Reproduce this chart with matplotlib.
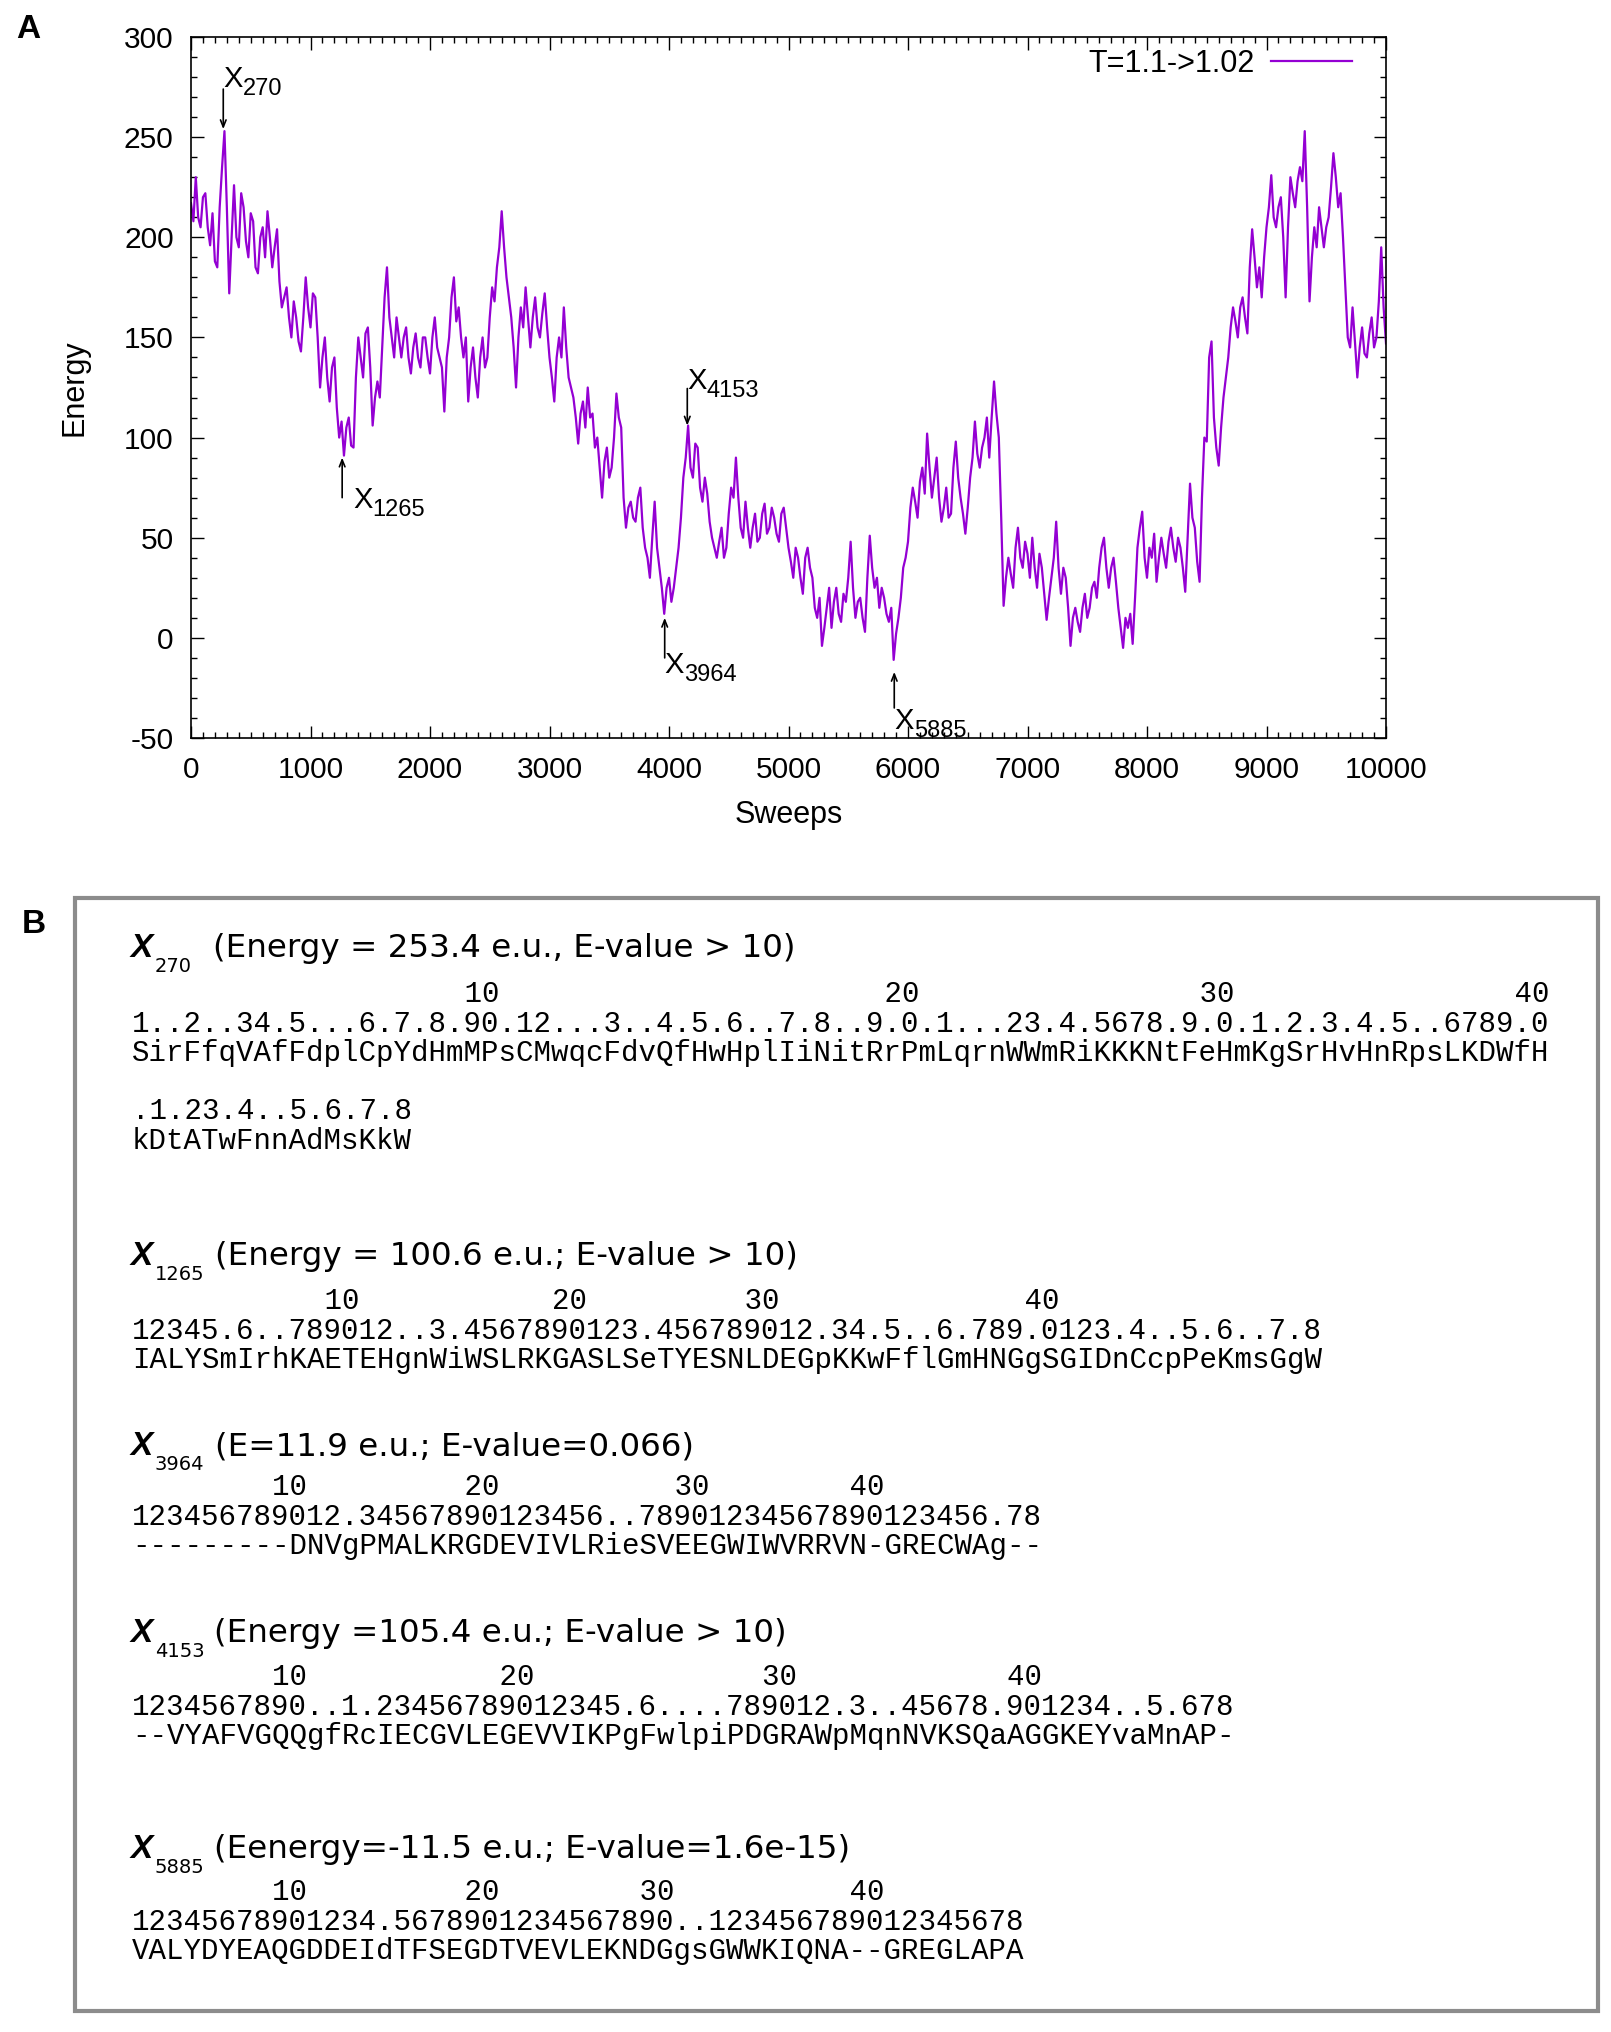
import numpy as np
import matplotlib
matplotlib.use("Agg")
import matplotlib.pyplot as plt
from matplotlib.ticker import MultipleLocator
from matplotlib.patches import Rectangle

plt.rcParams["axes.unicode_minus"] = False

# ---------------- data: panel A ----------------
sweeps = np.arange(0, 10001, 20)
energy = [217,
    208, 230, 210, 205, 220, 222, 205, 196, 212, 188, 185, 215, 235, 253, 215, 172, 200, 226, 200, 195,
    222, 215, 198, 190, 212, 208, 185, 182, 200, 205, 190, 213, 200, 185, 195, 204, 178, 165, 170, 175,
    160, 150, 168, 160, 148, 143, 160, 180, 165, 155,
    172, 170, 150, 125, 140, 150, 130, 118, 135, 140, 115, 100, 108, 91, 105, 110, 96, 95, 130, 150,
    140, 130, 152, 155, 135, 106, 120, 128, 120, 145, 170, 185, 160, 150, 140, 160, 150, 140, 150, 155,
    140, 132, 145, 152, 140, 135, 150, 150, 140, 132,
    150, 160, 145, 140, 135, 113, 140, 150, 170, 180, 158, 165, 150, 140, 150, 118, 135, 145, 130, 120,
    140, 150, 135, 140, 160, 175, 168, 185, 195, 213, 195, 180, 170, 160, 145, 125, 150, 165, 155, 175,
    160, 145, 160, 170, 155, 150, 162, 172, 155, 140,
    130, 118, 140, 150, 140, 165, 145, 130, 125, 120, 110, 97, 112, 118, 105, 125, 110, 112, 95, 100,
    85, 70, 88, 95, 80, 85, 100, 122, 110, 105, 70, 55, 65, 68, 60, 58, 70, 75, 55, 45,
    40, 30, 50, 68, 45, 35, 25, 12, 25, 30,
    18, 25, 35, 45, 60, 80, 90, 106, 85, 80, 97, 95, 75, 68, 80, 72, 58, 50, 45, 40,
    48, 55, 40, 45, 62, 75, 70, 90, 70, 55, 50, 68, 55, 45, 55, 62, 48, 50, 62, 67,
    52, 55, 65, 60, 52, 48, 62, 65, 55, 45,
    38, 30, 45, 40, 30, 22, 40, 45, 35, 30, 15, 10, 20, -4, 5, 15, 25, 5, 18, 25,
    12, 8, 22, 18, 30, 48, 25, 10, 18, 20, 10, 3, 30, 51, 35, 25, 30, 15, 25, 20,
    12, 8, 15, -11, 2, 10, 20, 35, 40, 48,
    65, 75, 68, 60, 78, 85, 72, 102, 85, 70, 80, 90, 70, 58, 65, 75, 60, 62, 85, 98,
    80, 70, 62, 52, 65, 80, 90, 108, 92, 85, 95, 100, 110, 90, 110, 128, 112, 100, 60, 16,
    30, 40, 32, 25, 45, 55, 40, 35, 48, 42,
    30, 50, 35, 25, 42, 35, 22, 9, 20, 30, 40, 58, 35, 22, 35, 30, 15, -4, 10, 15,
    8, 3, 15, 22, 10, 15, 25, 28, 20, 35, 45, 50, 35, 25, 35, 40, 28, 15, 5, -5,
    10, 5, 12, -3, 20, 45, 55, 63, 40, 30,
    45, 40, 52, 28, 40, 50, 42, 35, 48, 55, 45, 38, 50, 45, 35, 23, 50, 77, 60, 55,
    38, 28, 70, 100, 98, 140, 148, 110, 95, 86, 105, 120, 130, 140, 155, 165, 158, 150, 165, 170,
    160, 152, 185, 204, 190, 175, 185, 170, 190, 205,
    215, 231, 210, 205, 215, 220, 200, 170, 205, 230, 222, 215, 228, 235, 228, 253, 215, 168, 190, 205,
    195, 215, 205, 195, 205, 210, 225, 242, 230, 215, 222, 200, 175, 150, 145, 165, 148, 130, 145, 155,
    142, 140, 152, 160, 145, 150, 168, 195, 165, 147]

series_label = "T=1.1->1.02"
x_ticks = [0, 1000, 2000, 3000, 4000, 5000, 6000, 7000, 8000, 9000, 10000]
y_ticks = [-50, 0, 50, 100, 150, 200, 250, 300]

# annotated states: name, sweep, arrow tail, arrow tip, label x, label baseline
ann_names = ["270", "1265", "3964", "4153", "5885"]
ann_x = [270, 1265, 3964, 4153, 5885]
ann_tail = [274, 70, -10, 124.5, -35]
ann_tip = [254, 90, 10, 106, -17]
ann_label_x = [270, 1355, 3964, 4153, 5885]
ann_label_y = [275, 65, -17.6, 124.5, -45.3]

# ---------------- data: panel B ----------------
titles = ["(Energy = 253.4 e.u., E-value > 10)",
          "(Energy = 100.6 e.u.; E-value > 10)",
          "(E=11.9 e.u.; E-value=0.066)",
          "(Energy =105.4 e.u.; E-value > 10)",
          "(Eenergy=-11.5 e.u.; E-value=1.6e-15)"]
dots_lines = [
    ["1..2..34.5...6.7.8.90.12...3..4.5.6..7.8..9.0.1...23.4.5678.9.0.1.2.3.4.5..6789.0",
     ".1.23.4..5.6.7.8"],
    ["12345.6..789012..3.4567890123.456789012.34.5..6.789.0123.4..5.6..7.8"],
    ["123456789012.34567890123456..78901234567890123456.78"],
    ["1234567890..1.23456789012345.6....789012.3..45678.901234..5.678"],
    ["12345678901234.5678901234567890..123456789012345678"],
]
seq_lines = [
    ["SirFfqVAfFdplCpYdHmMPsCMwqcFdvQfHwHplIiNitRrPmLqrnWWmRiKKKNtFeHmKgSrHvHnRpsLKDWfH",
     "kDtATwFnnAdMsKkW"],
    ["IALYSmIrhKAETEHgnWiWSLRKGASLSeTYESNLDEGpKKwFflGmHNGgSGIDnCcpPeKmsGgW"],
    ["---------DNVgPMALKRGDEVIVLRieSVEEGWIWVRRVN-GRECWAg--"],
    ["--VYAFVGQQgfRcIECGVLEGEVVIKPgFwlpiPDGRAWpMqnNVKSQaAGGKEYvaMnAP-"],
    ["VALYDYEAQGDDEIdTFSEGDTVEVLEKNDGgsGWWKIQNA--GREGLAPA"],
]


def ruler(dots):
    """Position numbers (10, 20, ...) right-aligned over every tenth residue."""
    out = [" "] * len(dots)
    count = 0
    for i, ch in enumerate(dots):
        if ch.isdigit():
            count += 1
            if count % 10 == 0:
                lab = str(count)
                for k, c in enumerate(lab):
                    out[i - len(lab) + 1 + k] = c
    return "".join(out).rstrip()


# ---------------- figure ----------------
W, H = 1611, 2032
fig = plt.figure(figsize=(W / 100, H / 100), dpi=100)
fig.patch.set_facecolor("white")

SANS = "Liberation Sans"
MONO = "Liberation Mono"
violet = "#9400D3"


def fx(x):
    return x / W


def fy(y):
    return 1 - y / H


# ---------- panel A ----------
ax = fig.add_axes([191 / W, 1 - 738 / H, 1195 / W, 701 / H])
ax.plot(sweeps, energy, color=violet, lw=1.6, label=series_label)
ax.set_xlim(0, 10000)
ax.set_ylim(-50, 300)
ax.set_xticks(x_ticks)
ax.set_yticks(y_ticks)
ax.xaxis.set_minor_locator(MultipleLocator(100))
ax.yaxis.set_minor_locator(MultipleLocator(10))
ax.tick_params(which="both", direction="in", top=True, right=True, width=1.0)
ax.tick_params(which="major", length=9)
ax.tick_params(which="minor", length=4.5)
ax.tick_params(axis="x", which="major", pad=13)
ax.tick_params(axis="y", which="major", pad=12.5)
for lab in ax.get_xticklabels() + ax.get_yticklabels():
    lab.set_fontfamily(SANS)
    lab.set_fontsize(21.5)
for sp in ax.spines.values():
    sp.set_linewidth(1.2)

ax.set_xlabel("Sweeps", fontfamily=SANS, fontsize=22)
ax.set_ylabel("Energy", fontfamily=SANS, fontsize=22)
ax.xaxis.set_label_coords(0.5, -(815 - 738) / 701)
ax.xaxis.label.set_va("center")
ax.yaxis.set_label_coords(-(191 - 75) / 1195, 0.5)
ax.yaxis.label.set_va("center")

ax.legend(loc="center right", bbox_to_anchor=((1352 - 191) / 1195, 1 - (64 - 37) / 701),
          frameon=False, markerfirst=False, handlelength=2.65, handletextpad=0.55,
          borderpad=0, borderaxespad=0, prop={"family": SANS, "size": 22})

for name, x, t0, t1, lx, ly in zip(ann_names, ann_x, ann_tail, ann_tip, ann_label_x, ann_label_y):
    ax.annotate("", xy=(x, t1), xytext=(x, t0),
                arrowprops=dict(arrowstyle="->,head_length=0.5,head_width=0.2",
                                color="black", lw=1.2, shrinkA=0, shrinkB=0))
    ax.text(lx, ly, "X", fontfamily=SANS, fontsize=21, ha="left", va="baseline")
    ax.annotate(name, xy=(lx, ly), xytext=(14, -6), textcoords="offset points",
                fontfamily=SANS, fontsize=17, ha="left", va="baseline")

fig.text(fx(28), fy(30), "A", fontfamily=SANS, fontsize=24, fontweight="bold",
         ha="center", va="center")

# ---------- panel B ----------
fig.text(fx(34), fy(924), "B", fontfamily=SANS, fontsize=24, fontweight="bold",
         ha="center", va="center")
fig.patches.append(Rectangle((fx(75), fy(2011)), fx(1598) - fx(75), fy(898) - fy(2011),
                             transform=fig.transFigure, fill=False,
                             edgecolor="#8c8c8c", linewidth=3.0))

title_base = [957, 1265, 1455, 1642, 1858]
title_x = [213, 215, 215, 214, 214]
first_line = [1002, 1309, 1495, 1685, 1900]
LS = 29.6
mono_size = 20.96

for i in range(5):
    yb = title_base[i]
    fig.text(fx(131), fy(yb), "X", fontfamily=SANS, fontsize=24, fontweight="bold",
             fontstyle="italic", ha="left", va="baseline")
    fig.text(fx(155), fy(yb + 15), ann_names[i], fontfamily="DejaVu Sans", fontsize=14,
             ha="left", va="baseline")
    fig.text(fx(title_x[i]), fy(yb), titles[i], fontfamily="DejaVu Sans", fontsize=23.4,
             ha="left", va="baseline")
    y = first_line[i]
    for j, (d, s) in enumerate(zip(dots_lines[i], seq_lines[i])):
        if j == 0:
            fig.text(fx(132), fy(y), ruler(d), fontfamily=MONO, fontsize=mono_size,
                     ha="left", va="baseline")
            y += LS
        else:
            y += 2 * LS - 1
        fig.text(fx(132), fy(y), d, fontfamily=MONO, fontsize=mono_size,
                 ha="left", va="baseline")
        fig.text(fx(132), fy(y + LS), s, fontfamily=MONO, fontsize=mono_size,
                 ha="left", va="baseline")
        y += LS

fig.savefig("out.png", dpi=100, facecolor="white")
